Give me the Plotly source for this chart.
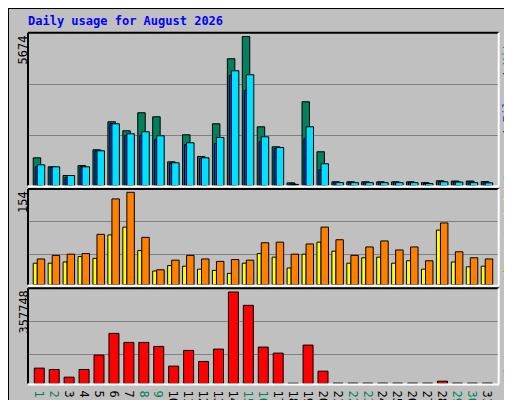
import plotly.graph_objects as go

days = list(range(1, 32))
hits = [1055,712,381,762,1360,2427,2084,2770,2617,903,1932,1105,2351,4827,5674,2236,1474,100,3189,1284,140,140,140,140,140,140,110,180,170,170,150]
files = [712,690,305,712,1322,2362,1905,1905,1753,850,1562,1029,1600,4191,3620,1665,1410,60,1791,598,120,120,120,120,120,120,80,150,140,130,120]
pages = [788,712,381,712,1322,2350,1970,2046,1894,865,1627,1055,1829,4370,4218,1855,1448,40,2236,827,110,110,110,110,110,110,70,140,130,110,100]
sites = [36,36,38,47,44,83,96,57,23,32,31,26,24,19,36,52,46,28,51,71,56,36,45,46,36,40,26,91,38,30,31]
visits = [43,49,51,52,84,143,154,79,25,41,49,43,39,42,41,70,71,51,68,96,75,49,63,73,58,63,40,103,55,45,43]
kbytes = [60076,54850,24800,54850,111000,195900,160600,160600,145000,67900,129300,86200,134500,357748,305600,142400,118800,1000,150200,48300,1500,1500,1500,1500,1500,1500,1500,9000,1500,1500,1500]
weekend = [1,2,8,9,15,16,22,23,29,30]

W, H = 512, 400
px = lambda x: x / W
py = lambda y: 1 - y / H

panels = [(24.7, 177.5), (181, 276.8), (280.3, 375.5)]
fig = go.Figure()
line = dict(color="black", width=1)

def bar(y, color, off, wid, ax):
    fig.add_trace(go.Bar(x=days, y=y, offset=off, width=wid, marker=dict(color=color, line=line),
                         xaxis="x", yaxis=ax, showlegend=False))

bar(hits, "#00805c", -0.52, 0.5, "y")
bar(files, "#0040ff", -0.39, 0.45, "y")
bar(pages, "#00e0ff", -0.25, 0.5, "y")
bar(sites, "#ffff00", -0.52, 0.27, "y2")
bar(visits, "#ff8000", -0.25, 0.5, "y2")
bar(kbytes, "#ff0000", -0.45, 0.67, "y3")

def dom(p):
    return [py(p[1]), py(p[0])]

ranges = [5819, 159.5, 372200]
grids = [[1893, 3837], [50.2, 105.5], [113600, 243000]]
ax = {}
for i, (p, r, g) in enumerate(zip(panels, ranges, grids)):
    name = "yaxis" if i == 0 else f"yaxis{i+1}"
    ax[name] = dict(domain=dom(p), range=[0, r], tickvals=g, showticklabels=False, gridcolor="#808080",
                    gridwidth=1, zeroline=False, anchor="x", fixedrange=True)

ticktext = [f'<span style="color:{"#00805c" if d in weekend else "black"}">{d}</span>' for d in days]

fig.update_layout(
    width=W, height=H, margin=dict(l=0, r=0, t=0, b=0),
    paper_bgcolor="#c0c0c0", plot_bgcolor="#c0c0c0", barmode="overlay",
    xaxis=dict(domain=[px(20), px(490.7)], range=[0.13, 31.65], tickvals=days, ticktext=ticktext,
               anchor="y3", showgrid=False, zeroline=False, showline=False, ticks="",
               tickfont=dict(family="DejaVu Sans Mono", size=12, color="black"), fixedrange=True),
    font=dict(family="DejaVu Sans Mono", size=12, color="black"),
    **ax,
)

shapes = []
for p in panels:
    shapes.append(dict(type="line", xref="paper", yref="paper", x0=px(20), x1=px(490.7), y0=py(p[0]), y1=py(p[0]), line=dict(color="black", width=2)))
    shapes.append(dict(type="line", xref="paper", yref="paper", x0=px(20), x1=px(20), y0=py(p[0]), y1=py(p[1]), line=dict(color="black", width=2)))
    shapes.append(dict(type="line", xref="paper", yref="paper", x0=px(20), x1=px(490.7), y0=py(p[1]+1), y1=py(p[1]+1), line=dict(color="white", width=2)))
    shapes.append(dict(type="line", xref="paper", yref="paper", x0=px(490.7), x1=px(490.7), y0=py(p[0]), y1=py(p[1]+1), line=dict(color="white", width=2)))
shapes.append(dict(type="rect", xref="paper", yref="paper", x0=px(2), x1=px(508), y0=py(398), y1=py(394), fillcolor="#808080", line=dict(width=0)))
shapes.append(dict(type="rect", xref="paper", yref="paper", x0=px(504), x1=px(508), y0=py(398), y1=py(2), fillcolor="#808080", line=dict(width=0)))
shapes.append(dict(type="rect", xref="paper", yref="paper", x0=0, x1=1, y0=0, y1=1, line=dict(color="black", width=2)))
fig.update_layout(shapes=shapes)

ann = [dict(text="<b>Daily usage for August 2026</b>", x=px(18), y=py(4), xanchor="left", yanchor="top",
            font=dict(color="#0000ff", size=12, family="DejaVu Sans Mono"))]
for val, top in [("5674", 26), ("154", 181), ("357748", 281)]:
    ann.append(dict(text=val, textangle=-90, x=px(6), y=py(top), xanchor="left", yanchor="top", font=dict(size=12, color="black")))
ann.append(dict(text='<span style="color:#00e0ff">Pages</span> / <span style="color:#0040ff">Files</span> / <span style="color:#00805c">Hits</span>',
                textangle=-90, x=px(491), y=py(26), xanchor="left", yanchor="top"))
ann.append(dict(text='<span style="color:#ff8000">Sites</span> / <span style="color:#ffff00">Visits</span>',
                textangle=-90, x=px(491), y=py(277), xanchor="left", yanchor="bottom"))
ann.append(dict(text='<span style="color:#ff0000">KBytes</span>',
                textangle=-90, x=px(491), y=py(376), xanchor="left", yanchor="bottom"))
for a in ann:
    a.update(xref="paper", yref="paper", showarrow=False)
fig.update_layout(annotations=ann)

fig.write_html("out.html")
